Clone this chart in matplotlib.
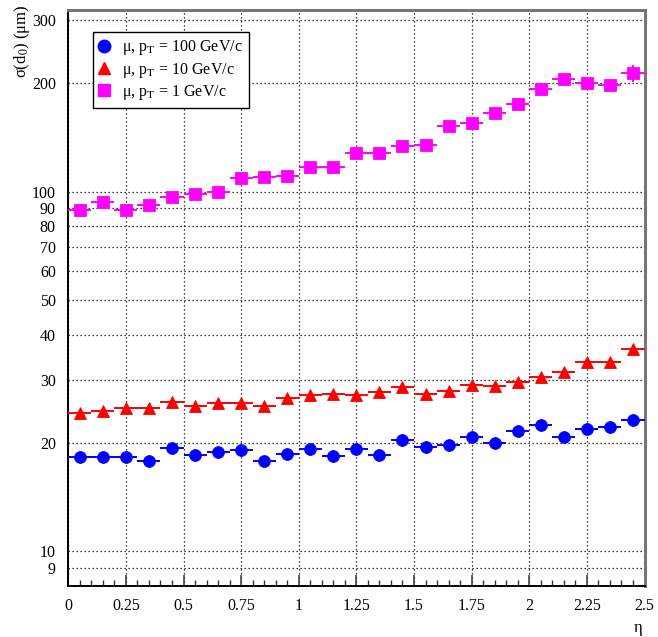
import numpy as np
import matplotlib
matplotlib.use("Agg")
import matplotlib.pyplot as plt
from matplotlib.lines import Line2D
from matplotlib.ticker import FixedLocator, FixedFormatter

plt.rcParams['font.family'] = ['Liberation Serif', 'DejaVu Serif']
plt.rcParams['mathtext.fontset'] = 'stix'

# pseudorapidity bin centres and half-widths
eta = [0.05, 0.15, 0.25, 0.35, 0.45, 0.55, 0.65, 0.75, 0.85, 0.95,
       1.05, 1.15, 1.25, 1.35, 1.45, 1.55, 1.65, 1.75, 1.85, 1.95,
       2.05, 2.15, 2.25, 2.35, 2.45]
eta_halfwidth = 0.05

# transverse impact parameter resolution (um)
sigma_pt100 = [18.3, 18.25, 18.3, 17.85, 19.4, 18.55, 18.9, 19.15, 17.85, 18.6,
               19.2, 18.45, 19.2, 18.5, 20.35, 19.45, 19.7, 20.8, 20.0, 21.6,
               22.5, 20.75, 21.8, 22.1, 23.2]
sigma_pt10 = [24.2, 24.6, 25.0, 24.95, 26.0, 25.4, 25.8, 25.9, 25.3, 26.7,
              27.1, 27.3, 27.2, 27.7, 28.7, 27.4, 27.9, 29.05, 28.8, 29.5,
              30.5, 31.6, 33.6, 33.5, 36.6]
sigma_pt1 = [89.1, 93.4, 88.9, 91.8, 96.7, 98.7, 99.6, 109.4, 109.8, 110.6,
             117.1, 117.3, 128.1, 127.8, 134.2, 135.1, 152.5, 155.5, 165.4, 175.2,
             193.1, 205.6, 200.0, 197.9, 213.6]
err_pt1 = [0, 0, 0, 0, 0, 0, 0, 0, 0, 0, 0, 0, 0, 0, 0, 0, 0, 0, 0, 0,
           0, 0, 0, 0, 12.0]

labels = [r"μ, p$_{\mathrm{T}}$ = 100 GeV/c",
          r"μ, p$_{\mathrm{T}}$ = 10 GeV/c",
          r"μ, p$_{\mathrm{T}}$ = 1 GeV/c"]

y_ticks = [9, 10, 20, 30, 40, 50, 60, 70, 80, 90, 100, 200, 300]
x_ticks = [0, 0.25, 0.5, 0.75, 1, 1.25, 1.5, 1.75, 2, 2.25, 2.5]
x_ticklabels = ["0", "0.25", "0.5", "0.75", "1", "1.25", "1.5", "1.75", "2", "2.25", "2.5"]

fig = plt.figure(figsize=(6.58, 6.37), dpi=100)
ax = fig.add_axes([68.3 / 658, 51 / 637, (644.5 - 68.3) / 658, (586 - 10) / 637])

series = [
    (sigma_pt100, None, 'o', '#0000ff'),
    (sigma_pt10, None, '^', '#ff0000'),
    (sigma_pt1, err_pt1, 's', '#ff00ff'),
]
for vals, yerr, mk, col in series:
    ax.errorbar(eta, vals, xerr=eta_halfwidth, yerr=yerr, fmt=mk, color=col,
                ecolor=col, elinewidth=1.4, capsize=0, markersize=8.5,
                markeredgewidth=0.6, markeredgecolor=col, zorder=3)

ax.set_yscale('log')
ax.set_xlim(0, 2.5)
ax.set_ylim(8.0, 320)

# y axis: labelled values with gridlines; decade ticks drawn as short marks
ax.yaxis.set_major_locator(FixedLocator(y_ticks))
ax.yaxis.set_major_formatter(FixedFormatter([str(v) for v in y_ticks]))
ax.yaxis.set_minor_locator(FixedLocator([10, 100]))
ax.yaxis.set_minor_formatter(FixedFormatter(["", ""]))
ax.tick_params(axis='y', which='major', length=0, pad=9, labelsize=11.5)
ax.tick_params(axis='y', which='minor', direction='in', length=10, width=1.6,
               color='#555555')

ax.xaxis.set_major_locator(FixedLocator(x_ticks))
ax.xaxis.set_major_formatter(FixedFormatter(x_ticklabels))
ax.xaxis.set_minor_locator(FixedLocator(np.arange(0.05, 2.5, 0.05)))
ax.tick_params(axis='x', which='major', direction='in', length=8, width=1.2,
               color='#444444', pad=8.5, labelsize=11.5)
ax.tick_params(axis='x', which='minor', direction='in', length=4.5, width=1.0,
               color='#333333')

ax.grid(True, which='major', color='black', linestyle=(0, (1, 2.2)), linewidth=0.9)
ax.set_axisbelow(True)

for side in ('left', 'bottom'):
    ax.spines[side].set_linewidth(1.4)
    ax.spines[side].set_color('black')
for side in ('top', 'right'):
    ax.spines[side].set_linewidth(2.2)
    ax.spines[side].set_color('#777777')

fig.text(22 / 658, 1 - 4 / 637, r"σ(d$_0$) (μm)", rotation=90, ha='center',
         va='top', fontsize=12)
fig.text(638 / 658, 1 - 628 / 637, "η", ha='center', va='center', fontsize=12)

handles = [Line2D([], [], linestyle='none', marker=mk, color=col, markersize=9)
           for _, _, mk, col in series]
leg = ax.legend(handles, labels, loc='upper left',
                bbox_to_anchor=((93 - 68.3) / 576.2, (586 - 32) / 576),
                frameon=True, fancybox=False, framealpha=1, edgecolor='black',
                fontsize=11.5, handlelength=0.6, handletextpad=0.8,
                labelspacing=0.2, borderpad=0.4, borderaxespad=0)
leg.get_frame().set_linewidth(1.0)

fig.savefig("out.png", dpi=100)
